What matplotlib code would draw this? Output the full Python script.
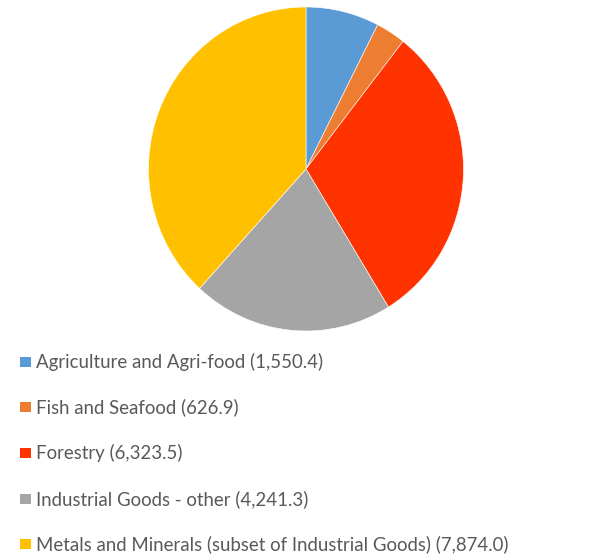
import matplotlib
matplotlib.use("Agg")
import matplotlib.pyplot as plt
from matplotlib.patches import Rectangle

categories = [
    "Agriculture and Agri-food",
    "Fish and Seafood",
    "Forestry",
    "Industrial Goods - other",
    "Metals and Minerals (subset of Industrial Goods)",
]
values = [1550.4, 626.9, 6323.5, 4241.3, 7874.0]
colors = ["#5B9BD5", "#ED7D31", "#FF3300", "#A5A5A5", "#FFC000"]

W, H = 612, 558
fig = plt.figure(figsize=(W / 100, H / 100), dpi=100)

# pie axes in pixel coordinates: center (306,169), radii 157.5 x 162
cx, cy, rx, ry = 306, 169, 157.5, 162
ax = fig.add_axes([(cx - rx) / W, 1 - (cy + ry) / H, 2 * rx / W, 2 * ry / H])
ax.pie(values, colors=colors, startangle=90, counterclock=False,
       wedgeprops=dict(edgecolor="white", linewidth=0.4))
ax.set_aspect("auto")
ax.set_xlim(-1, 1)
ax.set_ylim(-1, 1)
ax.axis("off")

# legend rows
row_y = [362, 407, 453, 499, 544]
for label, val, col, y in zip(categories, values, colors, row_y):
    fig.patches.append(Rectangle((20 / W, 1 - (y + 5) / H), 10.5 / W, 10.5 / H,
                                 transform=fig.transFigure, facecolor=col,
                                 edgecolor="none"))
    fig.text(36 / W, 1 - y / H, f"{label} ({val:,.1f})", ha="left", va="center",
             fontsize=13.45, color="#595959", family=["Lato", "DejaVu Sans"])

fig.savefig("out.png", dpi=100)
